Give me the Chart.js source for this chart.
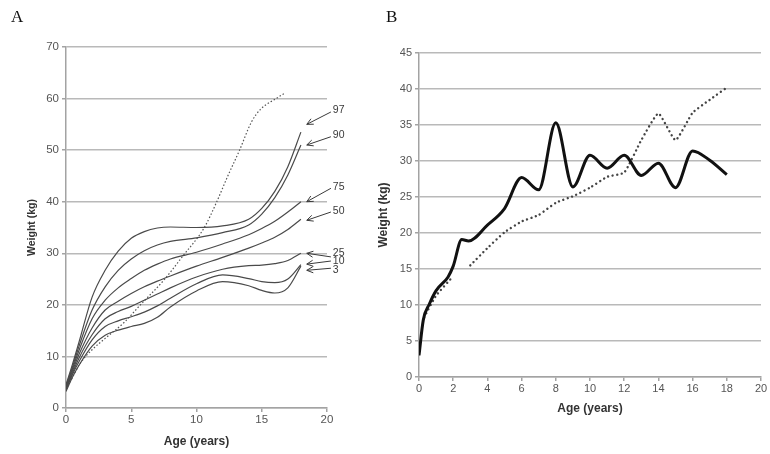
<!DOCTYPE html>
<html>
<head>
<meta charset="utf-8">
<script src="https://cdn.jsdelivr.net/npm/chart.js@4.4.1/dist/chart.umd.min.js"></script>
<style>
  html, body { margin: 0; padding: 0; background: #fff; }
  #wrap { position: relative; width: 770px; height: 454px; overflow: hidden; }
  .panel-label { position: absolute; font-family: 'Liberation Serif', 'DejaVu Serif', serif; font-size: 17px; color: #111; }
  #chartA { position: absolute; left: 0; top: 0; }
  #chartB { position: absolute; left: 372px; top: 0; }
</style>
</head>
<body>
<div id="wrap">
  <canvas id="chartA" width="372" height="454"></canvas>
  <canvas id="chartB" width="398" height="454"></canvas>
  <div class="panel-label" style="left:11px;top:7px">A</div>
  <div class="panel-label" style="left:386px;top:7px">B</div>
</div>
<script>
// ---- panel A: percentile curves (weight in kg by age in years)
const agesA = [0, 0.5, 1, 2, 3, 4, 5, 6, 7, 8, 10, 12, 14, 15, 16, 17, 18];
const p97 = [4.5, 8.5, 12.8, 21.5, 26.7, 30.4, 32.9, 34.2, 34.9, 35.1, 35.0, 35.3, 36.6, 38.7, 42.0, 46.8, 53.5];
const p90 = [4.3, 8.0, 12.0, 19.0, 23.5, 26.7, 28.9, 30.5, 31.6, 32.3, 33.0, 34.0, 35.5, 37.6, 40.8, 45.2, 51.0];
const p75 = [4.1, 7.6, 11.2, 17.3, 20.9, 23.3, 25.1, 26.7, 27.9, 28.9, 30.2, 31.8, 33.6, 34.8, 36.2, 38.0, 40.0];
const p50 = [3.9, 7.2, 10.4, 15.5, 19.0, 20.7, 22.2, 23.5, 24.6, 25.6, 27.5, 29.2, 31.0, 32.0, 33.1, 34.6, 36.6];
const p25 = [3.7, 6.8, 9.7, 14.2, 17.3, 18.7, 19.7, 20.9, 22.1, 23.3, 25.4, 26.9, 27.6, 27.7, 28.0, 28.6, 30.0];
const p10 = [3.5, 6.5, 9.0, 13.2, 15.8, 16.9, 17.7, 18.6, 19.8, 21.3, 24.1, 25.8, 25.1, 24.5, 24.3, 25.0, 27.8];
const p3 = [3.2, 6.0, 8.3, 12.0, 14.1, 15.1, 15.8, 16.4, 17.6, 19.6, 22.7, 24.5, 23.7, 22.8, 22.3, 23.3, 27.5];

// dotted patient curve in panel A
const agesPatientA = [0.3, 1.1, 2, 3, 4.5, 5.7, 7.5, 8.9, 10.6, 11.5, 12.4, 13.3, 14.2, 14.9, 16.1, 16.8];
const weightPatientA = [5.0, 8.7, 11.3, 13.5, 16.7, 20.0, 24.8, 29.3, 35.0, 39.7, 45.0, 50.0, 55.4, 57.9, 60.0, 61.1];

// percentile labels with their arrows (data coordinates)
const arrowLabels = ['97', '90', '75', '50', '25', '10', '3'];
const arrowTipY = [55.0, 51.0, 40.0, 36.4, 30.0, 27.9, 26.7];
const arrowTailY = [57.4, 52.6, 42.6, 38.0, 29.3, 28.5, 27.1];
const arrowLabelY = [57.8, 52.9, 42.9, 38.2, 30.0, 28.4, 26.7];

// ---- panel B
const agesB = [0, 0.25, 0.6, 1, 1.7, 2, 2.5, 2.9, 4, 5, 6, 7, 8, 9, 10, 11, 12, 13, 14, 15, 16, 17, 18];
const weightB = [3.0, 7.9, 10.1, 12.0, 13.9, 15.4, 19.1, 18.9, 21.1, 23.4, 27.7, 26.0, 35.3, 26.4, 30.8, 29.0, 30.8, 28.0, 29.7, 26.3, 31.4, 30.1, 28.1];
const agesRefB = [0.3, 1, 2, 2.5, 3, 4, 5, 6, 7, 8, 9, 10, 11, 12, 13, 14, 15, 16, 17, 18];
const weightRefB = [8.3, 11.3, 14.0, null, 15.5, 17.9, 20.1, 21.6, 22.5, 24.2, 25.1, 26.3, 27.8, 28.4, 32.9, 36.6, 32.9, 36.7, 38.5, 40.2];

Chart.defaults.font.family = '"Liberation Sans", Arial, sans-serif';
Chart.defaults.color = '#555';
Chart.defaults.animation = false;

const GRID = '#b9b9b9';
const AXIS = '#a3a3a3';

function pts(xs, ys) {
  return xs.map(function(x, i) { return { x: x, y: ys[i] }; });
}

function curve(xs, ys) {
  return {
    data: pts(xs, ys),
    borderColor: '#4a4a4a',
    borderWidth: 1.2,
    pointRadius: 0,
    fill: false,
    cubicInterpolationMode: 'monotone'
  };
}

const percentileArrows = {
  id: 'percentileArrows',
  afterDatasetsDraw(chart) {
    const ctx = chart.ctx;
    const xs = chart.scales.x, ys = chart.scales.y;
    ctx.save();
    ctx.strokeStyle = '#3a3a3a';
    ctx.fillStyle = '#3a3a3a';
    ctx.lineWidth = 1;
    ctx.font = '10.5px "Liberation Sans", Arial, sans-serif';
    ctx.textBaseline = 'middle';
    ctx.textAlign = 'left';
    arrowLabels.forEach(function(lab, i) {
      const x0 = xs.getPixelForValue(20.3), y0 = ys.getPixelForValue(arrowTailY[i]);
      const x1 = xs.getPixelForValue(18.45), y1 = ys.getPixelForValue(arrowTipY[i]);
      const ang = Math.atan2(y1 - y0, x1 - x0);
      ctx.beginPath();
      ctx.moveTo(x0, y0);
      ctx.lineTo(x1, y1);
      ctx.moveTo(x1 - 7 * Math.cos(ang - 0.45), y1 - 7 * Math.sin(ang - 0.45));
      ctx.lineTo(x1, y1);
      ctx.lineTo(x1 - 7 * Math.cos(ang + 0.45), y1 - 7 * Math.sin(ang + 0.45));
      ctx.stroke();
      ctx.fillText(lab, xs.getPixelForValue(20.45), ys.getPixelForValue(arrowLabelY[i]));
    });
    ctx.restore();
  }
};

function axes(cfg) {
  return {
    x: {
      type: 'linear',
      min: 0, max: 20,
      ticks: { stepSize: cfg.xStep, padding: 1, font: { size: cfg.tickSize }, color: '#555' },
      grid: { display: true, drawOnChartArea: false, drawTicks: true, tickLength: 4, tickColor: AXIS, lineWidth: 1.5 },
      border: { display: true, color: AXIS, width: 1.5 },
      title: { display: true, text: 'Age (years)', color: '#333', font: { size: 12, weight: 'bold' }, padding: { top: 0, bottom: cfg.xTitlePad } },
      afterFit: function(s) { s.height = cfg.xHeight; }
    },
    y: {
      min: 0, max: cfg.yMax,
      ticks: { stepSize: cfg.yStep, padding: 3, font: { size: cfg.tickSize }, color: '#555' },
      grid: { color: GRID, lineWidth: 1.5, drawTicks: true, tickLength: 4, tickColor: AXIS },
      border: { display: true, color: AXIS, width: 1.5 },
      title: { display: true, text: 'Weight (kg)', color: '#333', font: { size: cfg.yTitleSize, weight: 'bold' }, padding: { top: cfg.yTitlePad, bottom: 0 } },
      afterFit: function(s) { s.width = cfg.yWidth; }
    }
  };
}

new Chart(document.getElementById('chartA'), {
  type: 'line',
  data: {
    datasets: [
      curve(agesA, p97), curve(agesA, p90), curve(agesA, p75), curve(agesA, p50),
      curve(agesA, p25), curve(agesA, p10), curve(agesA, p3),
      {
        data: pts(agesPatientA, weightPatientA),
        borderColor: '#555',
        borderWidth: 1.2,
        borderDash: [1.5, 2],
        pointRadius: 0,
        fill: false,
        cubicInterpolationMode: 'monotone'
      }
    ]
  },
  options: {
    responsive: false,
    layout: { padding: { left: 0, top: 47, right: 45, bottom: 0 } },
    plugins: { legend: { display: false }, tooltip: { enabled: false } },
    scales: axes({ xStep: 5, yStep: 10, yMax: 70, tickSize: 11.5, xHeight: 46, xTitlePad: 5, yWidth: 66, yTitlePad: 25.5, yTitleSize: 10.5 })
  },
  plugins: [percentileArrows]
});

new Chart(document.getElementById('chartB'), {
  type: 'line',
  data: {
    datasets: [
      {
        data: pts(agesB, weightB),
        borderColor: '#111',
        borderWidth: 3,
        pointRadius: 0,
        fill: false,
        cubicInterpolationMode: 'monotone'
      },
      {
        data: pts(agesRefB, weightRefB),
        borderColor: '#444',
        borderWidth: 2.4,
        borderDash: [0.01, 4.6],
        borderCapStyle: 'round',
        pointRadius: 0,
        fill: false,
        tension: 0.15
      }
    ]
  },
  options: {
    responsive: false,
    layout: { padding: { left: 0, top: 53, right: 9, bottom: 35 } },
    plugins: { legend: { display: false }, tooltip: { enabled: false } },
    scales: axes({ xStep: 2, yStep: 5, yMax: 45, tickSize: 11, xHeight: 42, xTitlePad: 3, yWidth: 47, yTitlePad: 4, yTitleSize: 12 })
  }
});
</script>
</body>
</html>
